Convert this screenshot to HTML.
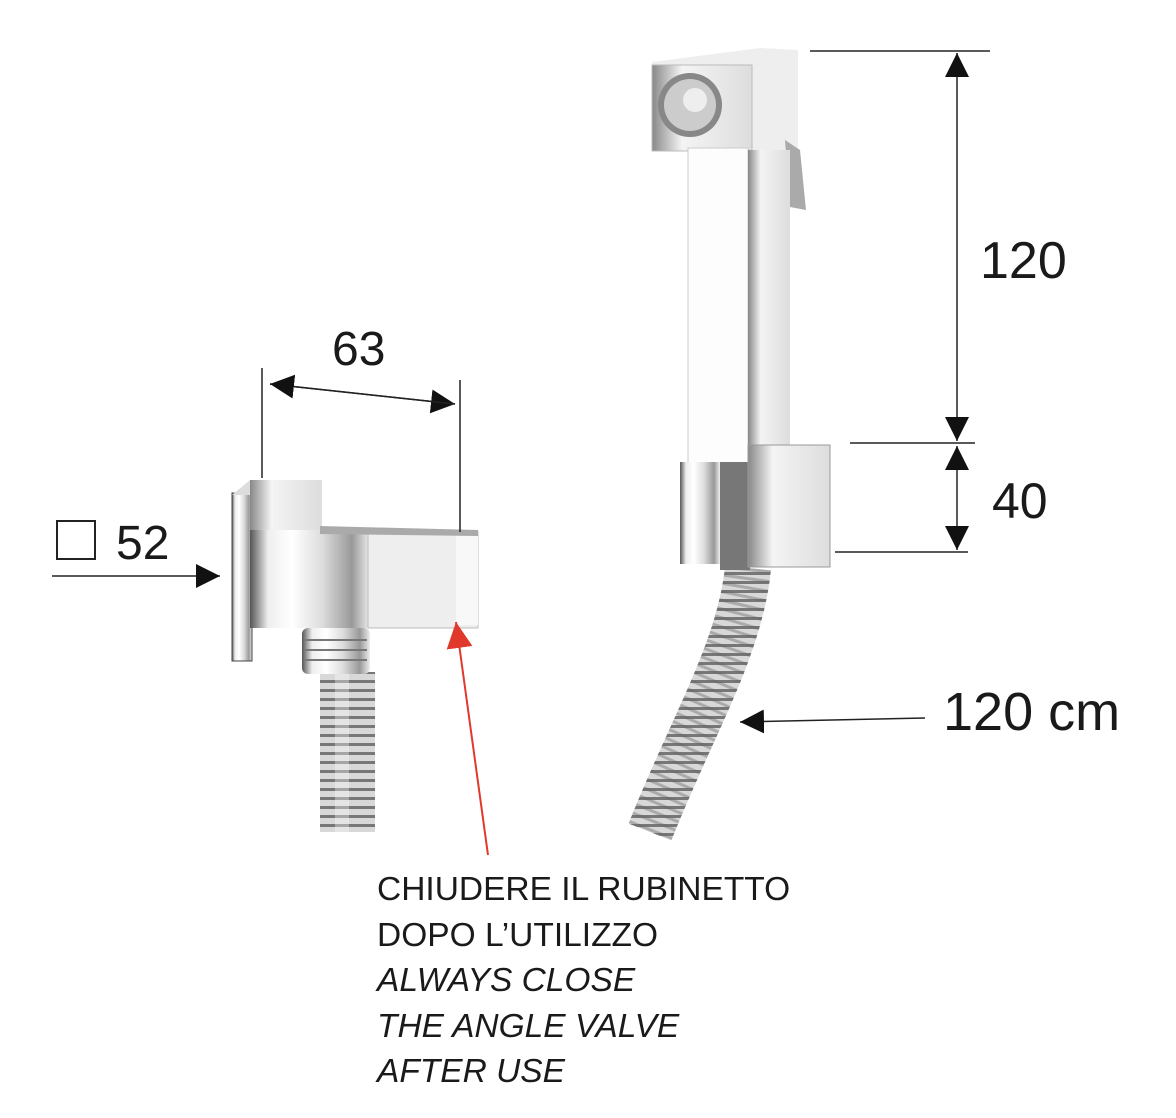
<!DOCTYPE html>
<html><head><meta charset="utf-8"><style>
html,body{margin:0;padding:0;background:#fff}
svg{display:block}
text{font-family:"Liberation Sans",sans-serif;fill:#1a1a1a}
</style></head><body>
<svg width="1176" height="1118" viewBox="0 0 1176 1118" xmlns="http://www.w3.org/2000/svg">
<defs>
<linearGradient id="ch" x1="0" x2="1"><stop offset="0" stop-color="#555"/><stop offset=".15" stop-color="#eee"/><stop offset=".35" stop-color="#fff"/><stop offset=".6" stop-color="#ddd"/><stop offset=".85" stop-color="#999"/><stop offset="1" stop-color="#eee"/></linearGradient>
<linearGradient id="ch2" x1="0" x2="1"><stop offset="0" stop-color="#888"/><stop offset=".3" stop-color="#f4f4f4"/><stop offset="1" stop-color="#ddd"/></linearGradient>
<pattern id="hose" width="14" height="9" patternUnits="userSpaceOnUse"><rect width="14" height="9" fill="#d8d8d8"/><rect y="5" width="14" height="3" fill="#777"/></pattern>
<marker id="a2" viewBox="0 0 10 10" markerWidth="24" markerHeight="24" refX="10" refY="5" orient="auto" markerUnits="userSpaceOnUse"><path d="M0,0 L10,5 L0,10z" fill="#111"/></marker>
<marker id="ar" viewBox="0 0 10 10" markerWidth="26" markerHeight="26" refX="10" refY="5" orient="auto" markerUnits="userSpaceOnUse"><path d="M0,0 L10,5 L0,10z" fill="#e0392b"/></marker>
</defs>

<rect x="320" y="672" width="55" height="160" fill="url(#hose)"/>
<rect x="335" y="672" width="14" height="160" fill="#fff" opacity=".35"/>
<rect x="302" y="628" width="68" height="46" rx="6" fill="url(#ch)"/>
<path d="M305 640 h62 M305 650 h62 M305 660 h62" stroke="#777" stroke-width="2"/>
<rect x="232" y="493" width="20" height="168" fill="url(#ch)" stroke="#444"/>
<path d="M232 495 L252 495 L320 480 L250 480z" fill="#ddd"/>
<rect x="250" y="480" width="72" height="54" fill="url(#ch2)"/>
<rect x="250" y="530" width="120" height="98" fill="url(#ch)"/>
<rect x="368" y="532" width="110" height="96" fill="#eee" stroke="#bbb"/>
<rect x="456" y="535" width="22" height="90" fill="#f8f8f8"/>
<path d="M320 526 L478 530 L478 536 L320 534z" fill="#aaa"/>

<path d="M748 568 C740 650 690 730 650 832" stroke="url(#hose)" stroke-width="46" fill="none"/>
<path d="M748 568 C740 650 690 730 650 832" stroke="#666" stroke-width="46" fill="none" stroke-dasharray="3 6" opacity=".4"/>
<path d="M652 62 L760 48 L798 50 L798 150 L690 150 L652 150z" fill="#eee"/>
<rect x="652" y="65" width="100" height="86" fill="url(#ch2)" stroke="#bbb"/>
<circle cx="690" cy="105" r="32" fill="#888"/>
<circle cx="690" cy="105" r="26" fill="#ccc"/>
<circle cx="695" cy="100" r="12" fill="#eee"/>
<path d="M785 140 L800 150 L806 210 L790 207z" fill="#aaa"/>
<rect x="688" y="148" width="60" height="315" fill="#fdfdfd" stroke="#ccc"/>
<rect x="748" y="150" width="42" height="313" fill="url(#ch2)"/>
<rect x="680" y="462" width="40" height="102" fill="url(#ch)"/>
<rect x="720" y="462" width="30" height="108" fill="#777"/>
<rect x="748" y="445" width="82" height="122" fill="url(#ch2)" stroke="#999"/>

<g stroke="#222" stroke-width="1.5" fill="none">
<line x1="262" y1="368" x2="262" y2="478"/>
<line x1="460" y1="380" x2="460" y2="532"/>
<line x1="270" y1="384" x2="455" y2="404" marker-end="url(#a2)"/>
<line x1="455" y1="404" x2="270" y2="384" marker-end="url(#a2)"/>
<line x1="810" y1="51" x2="990" y2="51"/>
<line x1="850" y1="443" x2="975" y2="443"/>
<line x1="835" y1="552" x2="968" y2="552"/>
<line x1="957" y1="240" x2="957" y2="53" marker-end="url(#a2)"/>
<line x1="957" y1="240" x2="957" y2="441" marker-end="url(#a2)"/>
<line x1="957" y1="500" x2="957" y2="446" marker-end="url(#a2)"/>
<line x1="957" y1="500" x2="957" y2="550" marker-end="url(#a2)"/>
<line x1="52" y1="576" x2="220" y2="576" marker-end="url(#a2)"/>
<line x1="925" y1="718" x2="740" y2="722" marker-end="url(#a2)"/>
</g>
<line x1="488" y1="855" x2="456" y2="622" stroke="#e0392b" stroke-width="2" marker-end="url(#ar)"/>

<rect x="57" y="521" width="38" height="38" fill="none" stroke="#222" stroke-width="2"/>
<text x="116" y="559" font-size="48">52</text>
<text x="332" y="365" font-size="48">63</text>
<text x="980" y="278" font-size="52">120</text>
<text x="992" y="518" font-size="50">40</text>
<text x="943" y="730" font-size="54">120 cm</text>
<g font-size="33.5">
<text x="377" y="900">CHIUDERE IL RUBINETTO</text>
<text x="377" y="946">DOPO L’UTILIZZO</text>
<text x="377" y="991" font-style="italic">ALWAYS CLOSE</text>
<text x="377" y="1037" font-style="italic">THE ANGLE VALVE</text>
<text x="377" y="1082" font-style="italic">AFTER USE</text>
</g>
</svg>
</body></html>
